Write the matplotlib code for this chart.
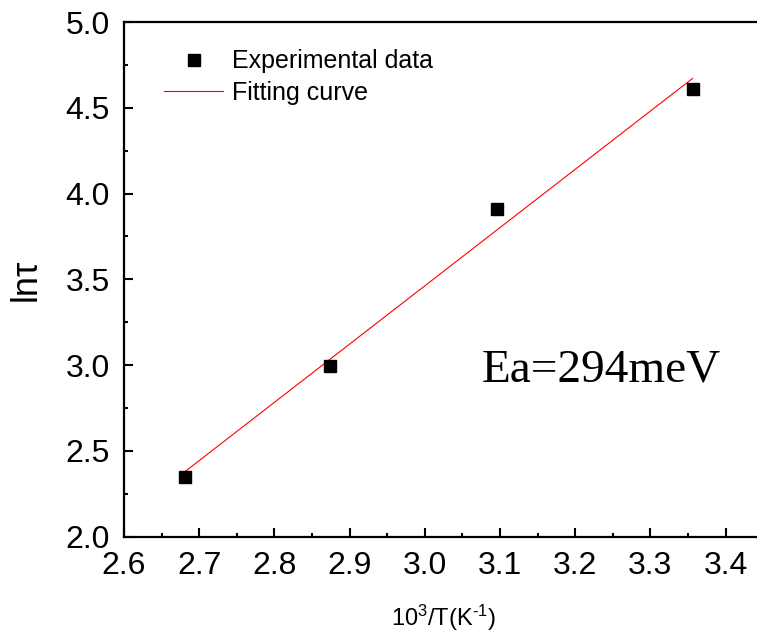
import matplotlib
matplotlib.use('Agg')
import matplotlib.pyplot as plt
from matplotlib.ticker import MultipleLocator

plt.rcParams['font.family'] = ['Liberation Sans', 'DejaVu Sans']
plt.rcParams['mathtext.fontset'] = 'custom'
plt.rcParams['mathtext.rm'] = 'Liberation Sans'
plt.rcParams['mathtext.default'] = 'rm'

# experimental points
inv_t = [2.681, 2.874, 3.096, 3.356]
ln_tau = [2.346, 2.993, 3.910, 4.607]

# fitted line end points
fit_x = [2.681, 3.356]
fit_y = [2.379, 4.671]

fig = plt.figure(figsize=(7.57, 6.39), dpi=100)
W, H = 757.0, 639.0
x0, x1 = 2.6, 3.45
px_per = 752.0  # pixels per x unit
left_px, bottom_px, top_px = 124.0, 536.7, 22.0
right_px = left_px + (x1 - x0) * px_per
ax = fig.add_axes([left_px / W, (H - bottom_px) / H,
                   (right_px - left_px) / W, (bottom_px - top_px) / H])

ax.plot(fit_x, fit_y, color='#ff0000', lw=0.8, label='Fitting curve', zorder=2)
ax.plot(inv_t, ln_tau, ls='none', marker='s', ms=8.2, color='black',
        label='Experimental data', zorder=3)

ax.set_xlim(x0, x1)
ax.set_ylim(2.0, 5.0)
ax.xaxis.set_major_locator(MultipleLocator(0.1))
ax.xaxis.set_minor_locator(MultipleLocator(0.05))
ax.yaxis.set_major_locator(MultipleLocator(0.5))
ax.yaxis.set_minor_locator(MultipleLocator(0.25))
ax.tick_params(which='both', direction='in', width=1.5, labelsize=23, pad=10)
ax.tick_params(which='major', length=6.5)
ax.tick_params(which='minor', length=3.2)
ax.tick_params(top=False, right=False, which='both')
for s in ax.spines.values():
    s.set_linewidth(1.6)

ax.set_xlabel('10$^3$/T(K$^{\u2010 1}$)', fontsize=17, labelpad=16)
ax.set_ylabel('lnτ', fontsize=26, labelpad=16)

ax.text(3.0757, 2.907, 'Ea=294meV', fontsize=34, va='baseline', ha='left',
        family=['Liberation Serif', 'DejaVu Serif'])

handles, labels = ax.get_legend_handles_labels()
ax.legend(handles[::-1], labels[::-1], loc='upper left',
          bbox_to_anchor=(0.0626, 0.947), frameon=False, fontsize=18,
          borderpad=0, borderaxespad=0, handlelength=2.36,
          handletextpad=0.36, labelspacing=0.3, numpoints=1)

fig.savefig('out.png', dpi=100)
